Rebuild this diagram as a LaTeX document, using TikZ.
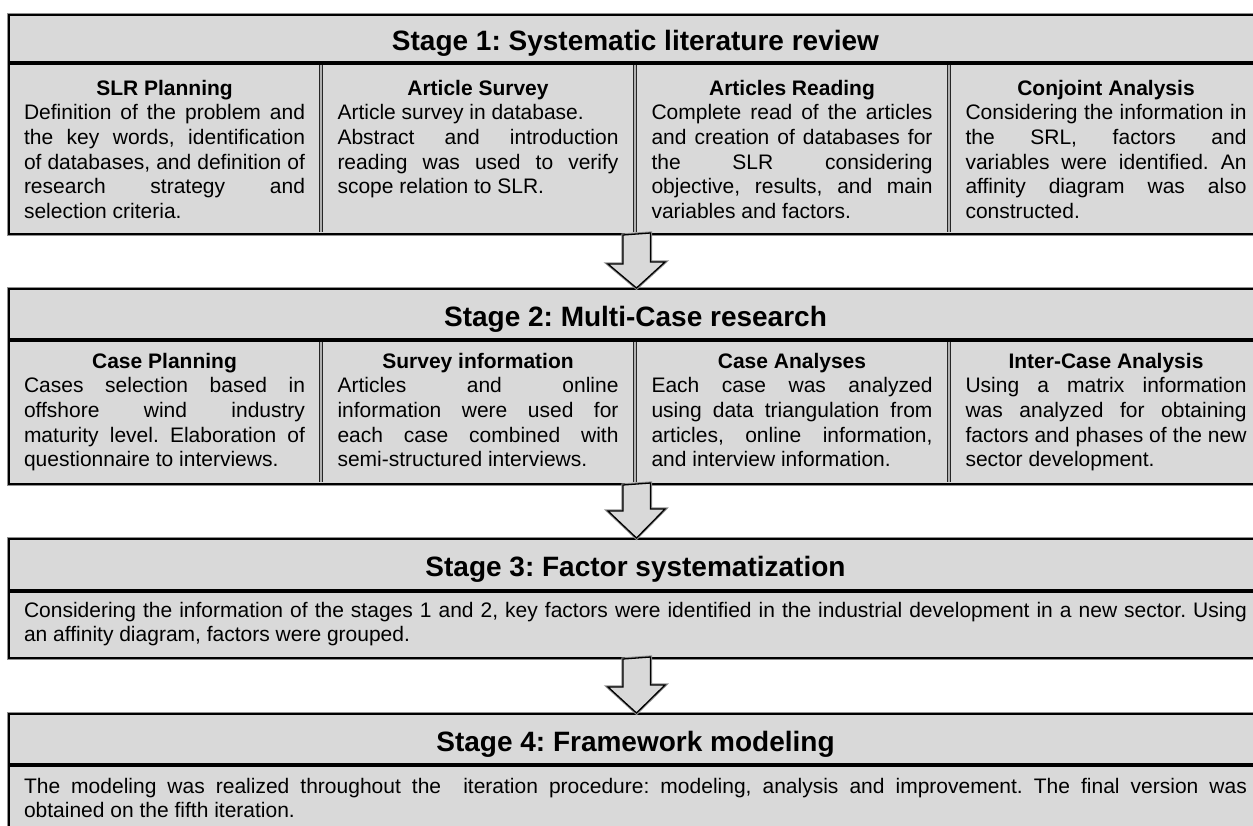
\documentclass[tikz,border=0pt]{standalone}
\usepackage{fontspec}
\setmainfont{Liberation Sans}
\usetikzlibrary{calc}
\definecolor{boxgray}{HTML}{D9D9D9}
\definecolor{halo}{HTML}{909090}
\hyphenpenalty=10000
\exhyphenpenalty=10000
\tolerance=10000
\frenchspacing
\begin{document}
\begin{tikzpicture}[x=1pt,y=-1pt,
  stagebox/.style={rectangle, draw=black, line width=2pt, fill=boxgray, inner sep=0pt,
    anchor=north west, minimum width=1255pt, preaction={draw=halo, line width=3.8pt}},
  titlediv/.style={draw=black, line width=3.4pt},
  coldiv/.style={draw=black!85, line width=1pt, double=halo!70, double distance=1.6pt},
  stagetitle/.style={anchor=base, inner sep=0pt, font=\fontsize{28}{32}\selectfont\bfseries},
  coltext/.style={anchor=base, inner sep=0pt, text width=281pt, align=justify,
    font=\fontsize{21}{24.7}\selectfont},
  widetext/.style={anchor=base, inner sep=0pt, text width=1223pt, align=justify,
    font=\fontsize{21}{24.7}\selectfont},
  blockarrow/.style={draw=black, line width=1.3pt, fill=boxgray, line join=miter,
    preaction={draw=halo, line width=3.2pt}}
]
\useasboundingbox (0,0) rectangle (1253,825);
\clip (0,0) rectangle (1253,825);

% ---------- Stage boxes ----------
\node[stagebox, minimum height=219pt] (s1) at (8,14) {};
\node[stagebox, minimum height=195pt] (s2) at (8,288) {};
\node[stagebox, minimum height=119pt] (s3) at (8,538) {};
\node[stagebox, minimum height=140pt] (s4) at (8,713) {};

% ---------- title dividers ----------
\draw[titlediv] (8,63) -- (1263,63);
\draw[titlediv] (8,340) -- (1263,340);
\draw[titlediv] (8,591) -- (1263,591);
\draw[titlediv] (8,765) -- (1263,765);

% ---------- column dividers ----------
\foreach \xx in {321,635,949}{
  \draw[coldiv] (\xx,64.7) -- (\xx,232);
  \draw[coldiv] (\xx,341.7) -- (\xx,482);
}

% ---------- stage titles ----------
\node[stagetitle] (t1) at (635.5,50.5) {Stage 1: Systematic literature review};
\node[stagetitle] (t2) at (635.5,326) {Stage 2: Multi-Case research};
\node[stagetitle] (t3) at (635.5,576.5) {Stage 3: Factor systematization};
\node[stagetitle] (t4) at (635.5,751) {Stage 4: Framework modeling};

% ---------- Stage 1 columns ----------
\node[coltext] (c11) at (164.5,95) {{\centering\bfseries SLR Planning\par}
Definition of the problem and\linebreak the key words, identification\linebreak of databases, and definition of\linebreak research strategy and\linebreak selection criteria.};
\node[coltext] (c12) at (478,95) {{\centering\bfseries Article Survey\par}
Article survey in database.\\ Abstract and introduction\linebreak reading was used to verify\linebreak scope relation to SLR.};
\node[coltext] (c13) at (792,95) {{\centering\bfseries Articles Reading\par}
Complete read of the articles\linebreak and creation of databases for\linebreak the SLR considering\linebreak objective, results, and main\linebreak variables and factors.};
\node[coltext] (c14) at (1106,95) {{\centering\bfseries Conjoint Analysis\par}
Considering the information in\linebreak the SRL, factors and\linebreak variables were identified. An\linebreak affinity diagram was also\linebreak constructed.};

% ---------- Stage 2 columns ----------
\node[coltext] (c21) at (164.5,368) {{\centering\bfseries Case Planning\par}
Cases selection based in\linebreak offshore wind industry\linebreak maturity level. Elaboration of\linebreak questionnaire to interviews.};
\node[coltext] (c22) at (478,368) {{\centering\bfseries Survey information\par}
Articles and online\linebreak information were used for\linebreak each case combined with\linebreak semi-structured interviews.};
\node[coltext] (c23) at (792,368) {{\centering\bfseries Case Analyses\par}
Each case was analyzed\linebreak using data triangulation from\linebreak articles, online information,\linebreak and interview information.};
\node[coltext] (c24) at (1106,368) {{\centering\bfseries Inter-Case Analysis\par}
Using a matrix information\linebreak was analyzed for obtaining\linebreak factors and phases of the new\linebreak sector development.};

% ---------- Stage 3 & 4 text ----------
\node[widetext] (b3) at (635.5,617) {Considering the information of the stages 1 and 2, key factors were identified in the industrial development in a new sector. Using\linebreak an affinity diagram, factors were grouped.};
\node[widetext] (b4) at (635.5,793) {The modeling was realized throughout the\ \ iteration procedure: modeling, analysis and improvement. The final version was\linebreak obtained on the fifth iteration.};

% ---------- block arrows ----------
\draw[blockarrow] (s1.south) ++(-13.5,0) -- ++(0,29) -- ++(-15,0) -- (s2.north) -- ++(28.5,-26) -- ++(-14.5,0) -- ++(0,-29) -- cycle;
\draw[blockarrow] (s2.south) ++(-13.5,0) -- ++(0,26) -- ++(-15,0) -- (s3.north) -- ++(28.5,-29) -- ++(-14.5,0) -- ++(0,-26) -- cycle;
\draw[blockarrow] (s3.south) ++(-13.5,0) -- ++(0,28) -- ++(-15,0) -- (s4.north) -- ++(28.5,-28) -- ++(-14.5,0) -- ++(0,-28) -- cycle;
\end{tikzpicture}
\end{document}
